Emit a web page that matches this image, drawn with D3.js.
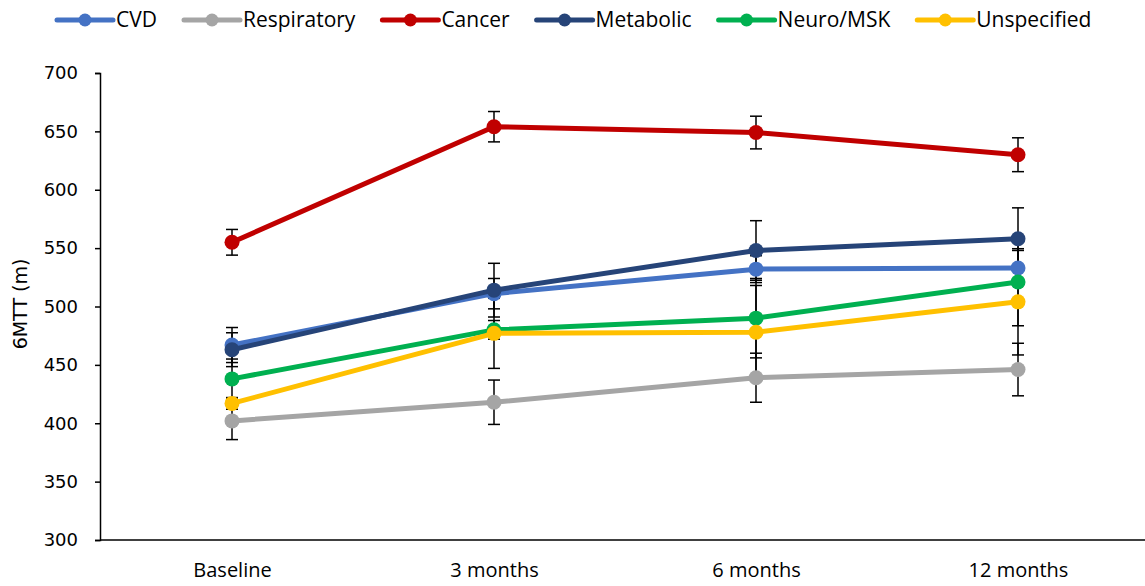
<!DOCTYPE html>
<html>
<head>
<meta charset="utf-8">
<script src="https://cdn.jsdelivr.net/npm/d3@7"></script>
<style>
  body { margin: 0; background: #fff; }
  svg { display: block; }
</style>
</head>
<body>
<svg id="chart" width="1145" height="586"></svg>
<script>
// data
const timepoints = ['Baseline', '3 months', '6 months', '12 months']
const seriesNames = ['CVD', 'Respiratory', 'Cancer', 'Metabolic', 'Neuro/MSK', 'Unspecified']
const seriesColors = ['#4472C4', '#A5A5A5', '#C00000', '#264478', '#00B050', '#FFC000']
const cvd = [467, 511, 532, 533]
const respiratory = [402, 418, 439, 446]
const cancer = [555, 654, 649, 630]
const metabolic = [463, 514, 548, 558]
const neuro = [438, 480, 490, 521]
const unspecified = [417, 477, 478, 504]
const cvdErr = [15, 13, 11.5, 15]
const respiratoryErr = [16, 19, 21, 22.5]
const cancerErr = [11, 13, 14, 14.5]
const metabolicErr = [14.5, 23, 25.5, 26.5]
const neuroErr = [17, 8, 34, 37.5]
const unspecifiedErr = [5, 30, 40, 45.5]
const yTicks = [300, 350, 400, 450, 500, 550, 600, 650, 700]

const values = [cvd, respiratory, cancer, metabolic, neuro, unspecified]
const errors = [cvdErr, respiratoryErr, cancerErr, metabolicErr, neuroErr, unspecifiedErr]
const series = seriesNames.map((name, i) => ({
    name: name,
    color: seriesColors[i],
    points: timepoints.map((t, j) => ({ t: t, v: values[i][j], e: errors[i][j] }))
}))

const svg = d3.select('#chart')
const margin = { left: 100, top: 73, bottom: 540 }

const x = d3.scalePoint()
    .domain(timepoints)
    .range([101, 1149])
    .padding(0.5)
const y = d3.scaleLinear()
    .domain([300, 700])
    .range([margin.bottom, margin.top])

// axes
const yAxis = svg.append('g')
    .attr('transform', `translate(${margin.left},0)`)
    .call(d3.axisLeft(y).tickValues(yTicks).tickSize(5).tickPadding(17))
yAxis.select('.domain').attr('stroke', '#000').attr('stroke-width', 1.5)
yAxis.selectAll('.tick line').attr('stroke', '#000').attr('stroke-width', 1.5)
yAxis.selectAll('.tick text')
    .style('font-family', 'DejaVu Sans')
    .style('font-size', '18px')
    .attr('fill', '#000')

const xAxis = svg.append('g')
    .attr('transform', `translate(0,${margin.bottom})`)
    .call(d3.axisBottom(x).tickSize(0).tickPadding(23))
xAxis.select('.domain').remove()
xAxis.append('line')
    .attr('x1', margin.left).attr('x2', 1145)
    .attr('stroke', '#000').attr('stroke-width', 1.5)
xAxis.selectAll('.tick text')
    .style('font-family', 'Open Sans')
    .style('font-size', '20px')
    .attr('fill', '#000')

svg.append('text')
    .attr('transform', 'translate(27,304) rotate(-90)')
    .attr('text-anchor', 'middle')
    .style('font-family', 'DejaVu Sans')
    .style('font-size', '19px')
    .text('6MTT (m)')

// error bars underneath
const errG = svg.append('g').attr('stroke', '#000').attr('stroke-width', 1.5)
series.forEach(s => {
    s.points.forEach(p => {
        const cx = x(p.t)
        errG.append('line').attr('x1', cx).attr('x2', cx).attr('y1', y(p.v - p.e)).attr('y2', y(p.v + p.e))
        errG.append('line').attr('x1', cx - 6).attr('x2', cx + 6).attr('y1', y(p.v - p.e)).attr('y2', y(p.v - p.e))
        errG.append('line').attr('x1', cx - 6).attr('x2', cx + 6).attr('y1', y(p.v + p.e)).attr('y2', y(p.v + p.e))
    })
})

const line = d3.line().x(d => x(d.t)).y(d => y(d.v))

series.forEach(s => {
    const g = svg.append('g')
    g.append('path')
        .datum(s.points)
        .attr('d', line)
        .attr('fill', 'none')
        .attr('stroke', s.color)
        .attr('stroke-width', 5)
        .attr('stroke-linejoin', 'round')
    g.selectAll('circle')
        .data(s.points)
        .enter().append('circle')
        .attr('cx', d => x(d.t))
        .attr('cy', d => y(d.v))
        .attr('r', 7.5)
        .attr('fill', s.color)
})

// legend
const legend = svg.append('g').attr('transform', 'translate(57,20)')
let lx = 0
series.forEach(s => {
    const item = legend.append('g').attr('transform', `translate(${lx},0)`)
    item.append('line')
        .attr('x1', 0).attr('x2', 56)
        .attr('stroke', s.color).attr('stroke-width', 5).attr('stroke-linecap', 'round')
    item.append('circle').attr('cx', 28).attr('r', 6.5).attr('fill', s.color)
    const txt = item.append('text')
        .attr('x', 59).attr('dy', '0.35em')
        .style('font-family', 'Open Sans')
        .style('font-size', '21px')
        .text(s.name)
    lx += 59 + txt.node().getComputedTextLength() + 27
})
</script>
</body>
</html>
